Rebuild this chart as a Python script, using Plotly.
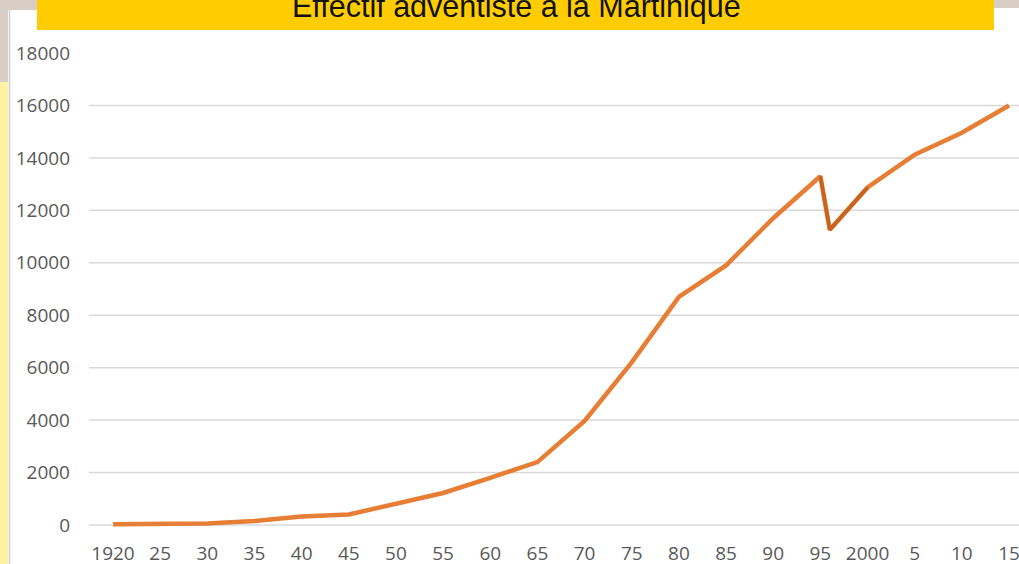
import plotly.graph_objects as go

# ---- data ----
years = [1920, 1925, 1930, 1935, 1940, 1945, 1950, 1955, 1960, 1965, 1970,
         1975, 1980, 1985, 1990, 1995, 1996, 2000, 2005, 2010, 2015]
members = [30, 30, 60, 150, 320, 400, 800, 1220, 1800, 2400, 3970,
           6200, 8700, 9900, 11700, 13300, 11260, 12870, 14120, 14960, 16000]
dip_years = [1995, 1996, 2000]
dip_members = [13300, 11260, 12870]

x_tickvals = [1920, 1925, 1930, 1935, 1940, 1945, 1950, 1955, 1960, 1965, 1970,
              1975, 1980, 1985, 1990, 1995, 2000, 2005, 2010, 2015]
x_ticktext = ["1920", "25", "30", "35", "40", "45", "50", "55", "60", "65", "70",
              "75", "80", "85", "90", "95", "2000", "5", "10", "15"]
y_tickvals = [0, 2000, 4000, 6000, 8000, 10000, 12000, 14000, 16000, 18000]
y_ticktext = ["0", "2000", "4000", "6000", "8000", "10000", "12000", "14000", "16000", "18000"]
grid_vals = y_tickvals[:-1]

title = "Effectif adventiste à la Martinique"

# ---- layout geometry (pixels) ----
W, H = 1019, 564
ML, MR, MT, MB = 89, 0, 53, 24
PW, PH = W - ML - MR, H - MT - MB


def px(x):
    return (x - ML) / PW


def py(y):
    return (H - MB - y) / PH


LINE = "#E67E35"
DARK = "#C8621F"

fig = go.Figure()
fig.add_trace(go.Scatter(x=years, y=members, mode="lines",
                         line=dict(color=LINE, width=4.5), hoverinfo="x+y",
                         showlegend=False))
fig.add_trace(go.Scatter(x=dip_years, y=dip_members, mode="lines",
                         line=dict(color=DARK, width=3.5), hoverinfo="x+y",
                         showlegend=False))

shapes = []
# gridlines
for v in grid_vals:
    shapes.append(dict(type="line", xref="paper", yref="y", x0=0, x1=1, y0=v, y1=v,
                       line=dict(color="#D9D9D9", width=1.5), layer="below"))
# decorative background pieces
bg = [
    (0, 0, 37, 10, "#D8CEC6"),
    (0, 0, 8, 82, "#D8CEC6"),
    (0, 82, 8, H, "#FFF3A3"),
    (994, 0, W, 8, "#D8CEC6"),
    (37, 0, 994, 30, "#FFCC00"),
]
for x0, y0, x1, y1, c in bg:
    shapes.append(dict(type="rect", xref="paper", yref="paper",
                       x0=px(x0), x1=px(x1), y0=py(y1), y1=py(y0),
                       fillcolor=c, line=dict(width=0), layer="below"))
shapes.append(dict(type="line", xref="paper", yref="paper",
                   x0=px(9.5), x1=px(9.5), y0=py(H), y1=py(10),
                   line=dict(color="#D0D0D0", width=1.5), layer="below"))

fig.update_layout(
    width=W, height=H,
    margin=dict(l=ML, r=MR, t=MT, b=MB, autoexpand=False),
    paper_bgcolor="white", plot_bgcolor="rgba(0,0,0,0)",
    shapes=shapes,
    annotations=[dict(text=title, xref="paper", yref="paper",
                      x=px(516), y=py(6), xanchor="center", yanchor="middle",
                      showarrow=False,
                      font=dict(family="Liberation Sans, Arial", size=30.5, color="#111111"))],
    xaxis=dict(range=[1917.455, 2016.06], tickvals=x_tickvals, ticktext=x_ticktext,
               showgrid=False, zeroline=False, showline=False, ticks="",
               ticklabelstandoff=0, ticklabeloverflow="allow",
               tickfont=dict(family="Open Sans", size=19, color="#595959")),
    yaxis=dict(range=[-572, 18000], tickvals=y_tickvals, ticktext=y_ticktext,
               showgrid=False, zeroline=False, showline=False, ticks="",
               ticklabelstandoff=18, ticklabeloverflow="allow",
               tickfont=dict(family="Open Sans", size=19, color="#595959")),
)

fig.write_html("out.html", config={"displayModeBar": False},
               post_script="document.body.style.margin='0';document.body.style.overflow='hidden';")
